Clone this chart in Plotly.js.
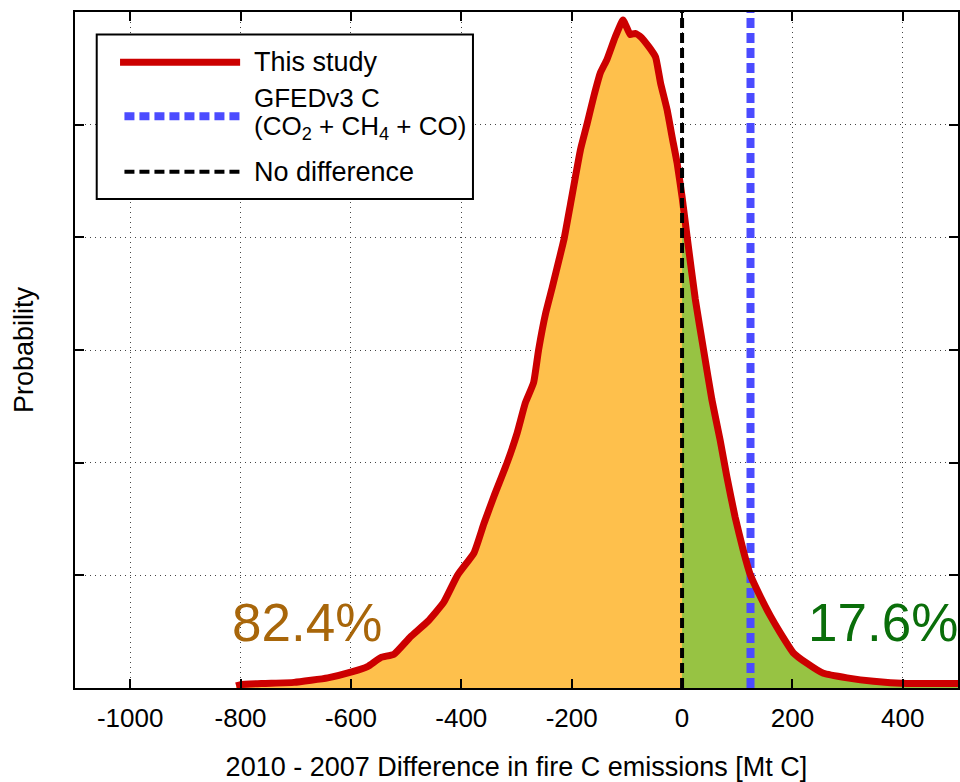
<!DOCTYPE html>
<html>
<head>
<meta charset="utf-8">
<script src="https://cdn.plot.ly/plotly-3.0.1.min.js"></script>
<style>html,body{margin:0;padding:0;background:#fff;}#chart{width:960px;height:782px;}</style>
</head>
<body>
<div id="chart"></div>
<script>
// Difference (2010 - 2007) in fire C emissions [Mt C]
const diffX = [-808, -800, -760, -703, -642, -597, -570, -546, -522, -492, -461, -432, -407, -377, -359, -341, -317, -299, -284, -269, -260, -247, -235, -223, -214, -202, -184, -172, -160, -148, -136, -121, -107, -100, -94, -85, -75, -60, -48, -39, -27, -18, -9, 0, 9, 24, 39, 54, 69, 81, 96, 111, 124, 142, 160, 178, 202, 226, 256, 299, 347, 407, 450, 500];
// Probability density (arbitrary units, axis 0..6)
const prob = [0.02, 0.03, 0.04, 0.05, 0.09, 0.145, 0.19, 0.27, 0.30, 0.455, 0.59, 0.76, 1.0, 1.2, 1.46, 1.70, 2.00, 2.26, 2.53, 2.71, 3.00, 3.33, 3.56, 3.80, 3.98, 4.30, 4.78, 5.01, 5.25, 5.46, 5.58, 5.78, 5.93, 5.86, 5.80, 5.81, 5.78, 5.69, 5.60, 5.37, 5.13, 4.89, 4.66, 4.36, 4.01, 3.45, 3.00, 2.56, 2.20, 1.88, 1.52, 1.22, 1.0, 0.81, 0.64, 0.49, 0.31, 0.22, 0.13, 0.09, 0.06, 0.04, 0.04, 0.04];
const gfedValue = 124;      // GFEDv3 C (CO2 + CH4 + CO)
const noDiffValue = 0;
const pctNegative = "82.4%";
const pctPositive = "17.6%";
const xTicks = [-1000, -800, -600, -400, -200, 0, 200, 400];
const yTicks = [0, 1, 2, 3, 4, 5, 6];
const yMax = 6;

const negX = [], negY = [], posX = [], posY = [];
diffX.forEach((x, i) => {
  if (x <= noDiffValue) { negX.push(x); negY.push(prob[i]); }
  if (x >= noDiffValue) { posX.push(x); posY.push(prob[i]); }
});

const RED = '#CC0000', BLUE = '#4B4BFF', ORANGE = '#FEC04C', GREEN = '#97C343';

const traces = [
  {x: negX, y: negY, type: 'scatter', mode: 'lines', fill: 'tozeroy', fillcolor: ORANGE, line: {width: 0, color: ORANGE, shape: 'spline', smoothing: 0.4}, hoverinfo: 'skip'},
  {x: posX, y: posY, type: 'scatter', mode: 'lines', fill: 'tozeroy', fillcolor: GREEN, line: {width: 0, color: GREEN, shape: 'spline', smoothing: 0.4}, hoverinfo: 'skip'},
  {x: [gfedValue, gfedValue], y: [0, yMax], type: 'scatter', mode: 'lines', name: 'GFEDv3 C', line: {color: BLUE, width: 8, dash: '10px,5px'}},
  {x: diffX, y: prob, type: 'scatter', mode: 'lines', name: 'This study', line: {color: RED, width: 7, shape: 'spline', smoothing: 0.4}},
  {x: [noDiffValue, noDiffValue], y: [0, yMax], type: 'scatter', mode: 'lines', name: 'No difference', line: {color: '#000', width: 4, dash: '10px,5px'}}
];

const FONT = 'Liberation Sans, Arial, Helvetica, sans-serif';
const legY = [0.9257, 0.8459, 0.7635];
const shapes = [
  {type: 'rect', xref: 'paper', yref: 'paper', x0: 0.0246, x1: 0.4507, y0: 0.7232, y1: 0.9666, line: {color: '#000', width: 2}, fillcolor: '#fff', layer: 'above'},
  {type: 'line', xref: 'paper', yref: 'paper', x0: 0.051, x1: 0.187, y0: legY[0], y1: legY[0], line: {color: RED, width: 7}},
  {type: 'line', xref: 'paper', yref: 'paper', x0: 0.056, x1: 0.187, y0: legY[1], y1: legY[1], line: {color: BLUE, width: 8, dash: '10px,5px'}},
  {type: 'line', xref: 'paper', yref: 'paper', x0: 0.056, x1: 0.187, y0: legY[2], y1: legY[2], line: {color: '#000', width: 4, dash: '10px,5px'}}
];

const annotations = [
  {xref: 'paper', yref: 'paper', x: 0.2005, y: legY[0], xanchor: 'left', yanchor: 'middle', showarrow: false, text: 'This study', font: {size: 27, color: '#000', family: FONT}},
  {xref: 'paper', yref: 'paper', x: 0.2005, y: 0.8725, xanchor: 'left', yanchor: 'middle', showarrow: false, text: 'GFEDv3 C', font: {size: 26, color: '#000', family: FONT}},
  {xref: 'paper', yref: 'paper', x: 0.2005, y: 0.8295, xanchor: 'left', yanchor: 'middle', showarrow: false, text: '(CO<sub>2</sub> + CH<sub>4</sub> + CO)', font: {size: 26, color: '#000', family: FONT}},
  {xref: 'paper', yref: 'paper', x: 0.2005, y: legY[2], xanchor: 'left', yanchor: 'middle', showarrow: false, text: 'No difference', font: {size: 27, color: '#000', family: FONT}},
  {x: -680, y: 0.58, xref: 'x', yref: 'y', showarrow: false, text: pctNegative, font: {size: 53, color: '#A8660A', family: FONT}},
  {x: 364, y: 0.58, xref: 'x', yref: 'y', showarrow: false, text: pctPositive, font: {size: 53, color: '#0A6E0A', family: FONT}}
];

const layout = {
  width: 960, height: 782,
  margin: {l: 75, r: 2, t: 12, b: 94},
  paper_bgcolor: '#fff', plot_bgcolor: '#fff',
  showlegend: false,
  font: {family: FONT, color: '#000', size: 26},
  xaxis: {
    range: [-1100, 500], tickvals: xTicks, ticktext: xTicks.map(String),
    ticks: 'inside', ticklen: 9, tickwidth: 2, tickcolor: '#000',
    showline: true, linecolor: '#000', linewidth: 2, mirror: 'ticks',
    showgrid: true, gridcolor: '#444', gridwidth: 1, griddash: '1px,4px',
    zeroline: false, tickfont: {size: 26}, ticklabelstandoff: 6,
    title: {text: '2010 - 2007 Difference in fire C emissions [Mt C]', font: {size: 27}, standoff: 28}
  },
  yaxis: {
    range: [0, yMax], tickvals: yTicks, showticklabels: false,
    ticks: 'inside', ticklen: 9, tickwidth: 2, tickcolor: '#000',
    showline: true, linecolor: '#000', linewidth: 2, mirror: 'ticks',
    showgrid: true, gridcolor: '#444', gridwidth: 1, griddash: '1px,4px',
    zeroline: false,
    title: {text: 'Probability', font: {size: 27}, standoff: 32}
  },
  shapes: shapes,
  annotations: annotations
};

Plotly.newPlot('chart', traces, layout, {displayModeBar: false, staticPlot: true});
</script>
</body>
</html>
